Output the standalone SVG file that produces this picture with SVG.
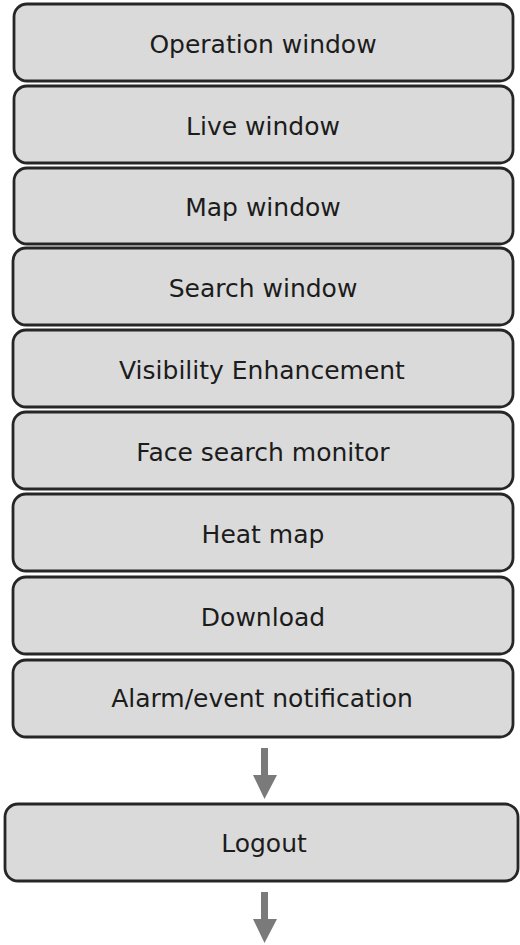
<svg xmlns="http://www.w3.org/2000/svg" width="520" height="945" viewBox="0 0 520 945">
<style>
.box{fill:#dadada;stroke:#262626;stroke-width:2.8}
.lbl{font-family:"DejaVu Sans",Verdana,sans-serif;font-size:25px;fill:#1c1c1c;text-anchor:middle}
.arr{fill:#7a7a7a}
</style>
<rect width="520" height="945" fill="#ffffff"/>
<g id="n1"><rect class="box" x="14" y="4" width="499" height="77" rx="13"/><text class="lbl" x="263" y="53">Operation window</text></g>
<g id="n2"><rect class="box" x="14" y="86" width="499" height="77" rx="13"/><text class="lbl" x="263" y="135">Live window</text></g>
<g id="n3"><rect class="box" x="14" y="168" width="499" height="76" rx="13"/><text class="lbl" x="263" y="216">Map window</text></g>
<g id="n4"><rect class="box" x="13" y="248" width="500" height="77" rx="13"/><text class="lbl" x="263" y="297">Search window</text></g>
<g id="n5"><rect class="box" x="13" y="330" width="500" height="77" rx="13"/><text class="lbl" x="262" y="378.5">Visibility Enhancement</text></g>
<g id="n6"><rect class="box" x="13" y="412" width="500" height="77" rx="13"/><text class="lbl" x="263" y="460.5">Face search monitor</text></g>
<g id="n7"><rect class="box" x="13" y="494" width="500" height="77" rx="13"/><text class="lbl" x="263" y="542.5">Heat map</text></g>
<g id="n8"><rect class="box" x="13" y="577" width="500" height="77" rx="13"/><text class="lbl" x="263" y="625.5">Download</text></g>
<g id="n9"><rect class="box" x="13" y="660" width="500" height="77" rx="13"/><text class="lbl" x="262" y="707">Alarm/event notification</text></g>
<g id="n10"><rect class="box" x="5" y="804" width="513" height="77" rx="13"/><text class="lbl" x="264" y="852">Logout</text></g>
<g id="connectors">
<path class="arr" d="M261,748 H268 V775 H277 L264.5,799 L253,775 H261 Z"/>
<path class="arr" d="M261,892 H268 V919 H277 L264.5,943 L253,919 H261 Z"/>
</g>
</svg>
